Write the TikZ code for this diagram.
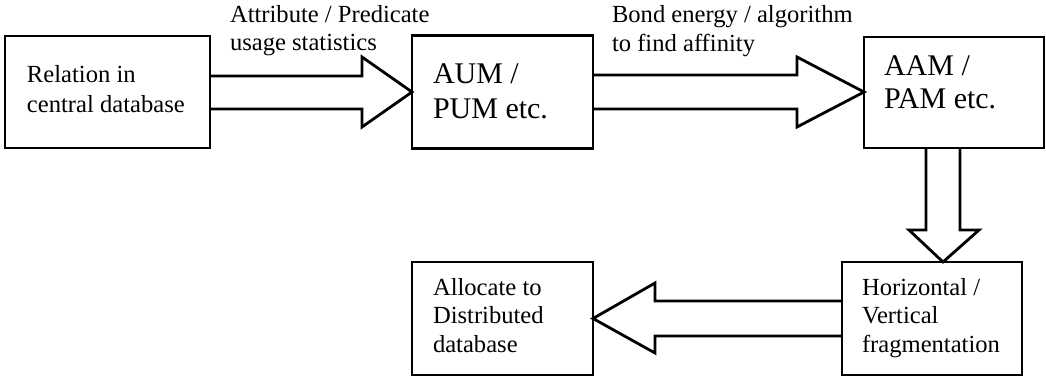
\documentclass[tikz,border=0pt]{standalone}
\usepackage{fontspec}
\setmainfont{Liberation Serif}
\usetikzlibrary{calc}
\begin{document}
\begin{tikzpicture}[x=1pt,y=-1pt,
  box/.style={draw,line width=2.6pt,rectangle,inner sep=0pt,outer sep=0pt},
  txt/.style={anchor=base west,inner sep=0pt,outer sep=0pt,font=\fontsize{24.6}{29}\selectfont},
  bigtxt/.style={anchor=base west,inner sep=0pt,outer sep=0pt,font=\fontsize{30}{35}\selectfont},
  blockarrow/.style={draw,line width=2.8pt,line join=miter,miter limit=10}]
\useasboundingbox (0,0) rectangle (1046,378);

% boxes
\node[box,minimum width=205pt,minimum height=112pt] (rel) at (107.5,92) {};
\node[box,minimum width=181pt,minimum height=113pt] (aum) at (502.5,92) {};
\node[box,minimum width=180pt,minimum height=111pt] (aam) at (954,92.5) {};
\node[box,minimum width=180pt,minimum height=113pt] (frag) at (932,318.5) {};
\node[box,minimum width=181pt,minimum height=113pt] (alloc) at (502.5,318.5) {};

% box texts
\node[txt] (rel1) at (27,82) {Relation in};
\node[txt] (rel2) at (27,112) {central database};
\node[bigtxt] (aum1) at (433,83) {AUM /};
\node[bigtxt] (aum2) at (433,118) {PUM etc.};
\node[bigtxt] (aam1) at (884,75) {AAM /};
\node[bigtxt] (aam2) at (884,108) {PAM etc.};
\node[txt] (frag1) at (862,295) {Horizontal /};
\node[txt] (frag2) at (862,323) {Vertical};
\node[txt] (frag3) at (862,352) {fragmentation};
\node[txt] (alloc1) at (433,295) {Allocate to};
\node[txt] (alloc2) at (433,323) {Distributed};
\node[txt] (alloc3) at (433,352) {database};

% arrow labels
\node[txt] (lab1a) at (230,22) {Attribute / Predicate};
\node[txt] (lab1b) at (230,50) {usage statistics};
\node[txt] (lab2a) at (612,22) {Bond energy / algorithm};
\node[txt] (lab2b) at (612,51) {to find affinity};

% block arrows
\draw[blockarrow] (rel.east |- 0,76) -- (362,76) -- (362,57) -- (aum.west)
  -- (362,127) -- (362,109) -- (rel.east |- 0,109);
\draw[blockarrow] (aum.east |- 0,75) -- (797,75) -- (797,57) -- (aam.west |- 0,92)
  -- (797,127) -- (797,109) -- (aum.east |- 0,109);
\draw[blockarrow] (aam.south -| 926,0) -- (926,230) -- (909,230) -- (frag.north -| 943,0)
  -- (979,230) -- (960,230) -- (aam.south -| 960,0);
\draw[blockarrow] (frag.west |- 0,301) -- (655,301) -- (655,283) -- (alloc.east)
  -- (655,353) -- (655,336) -- (frag.west |- 0,336);
\end{tikzpicture}
\end{document}
